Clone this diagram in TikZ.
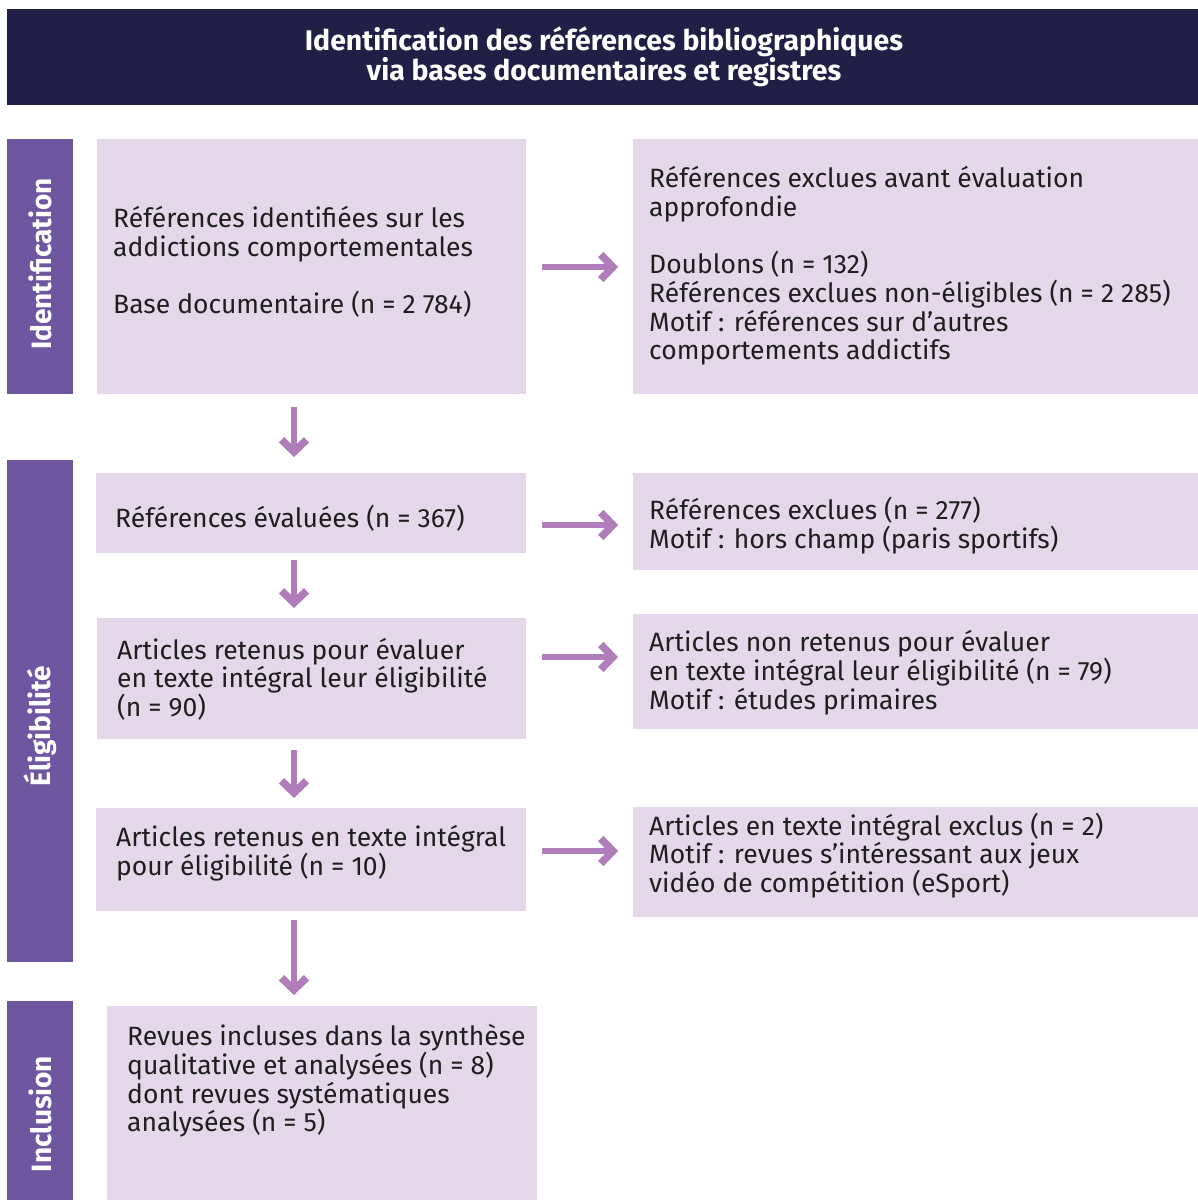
\documentclass[tikz,border=0pt]{standalone}
\usepackage{fontspec}
\setmainfont{Fira Sans}
\usetikzlibrary{arrows.meta}
\definecolor{navy}{HTML}{211F45}
\definecolor{side}{HTML}{6E57A0}
\definecolor{boxc}{HTML}{E5D7EA}
\definecolor{arr}{HTML}{B07DBA}
\definecolor{txt}{HTML}{1E1E1E}
\tikzset{
  panel/.style={fill=boxc, draw=none, inner sep=0pt, anchor=north west},
  sidebar/.style={fill=side, draw=none, inner sep=0pt, anchor=north west, minimum width=66pt},
  sidelabel/.style={rotate=90, text=white, font=\fontsize{28}{30}\selectfont\bfseries},
  body/.style={text=txt, align=left, anchor=west, inner sep=0pt, font=\fontsize{26.5}{28.7}\selectfont},
  flowarrow/.style={draw=arr, line width=6pt, -{Straight Barb[length=12pt,width=25pt,line width=7.5pt,line cap=butt,line join=miter]}},
}
\begin{document}
\begin{tikzpicture}[x=1pt,y=-1pt]
\useasboundingbox (0,0) rectangle (1198,1200);
% header
\node[fill=navy, inner sep=0pt, anchor=north west, minimum width=1191pt, minimum height=96pt] (head) at (7,9) {};
\node[text=white, align=center, font=\fontsize{28.4}{30.5}\selectfont\bfseries] (headtxt) at (604,57) {Identification des références bibliographiques\\via bases documentaires et registres};
% side bars
\node[sidebar, minimum height=255pt] (s1) at (7,139) {};
\node[sidebar, minimum height=502pt] (s2) at (7,460) {};
\node[sidebar, minimum height=199pt] (s3) at (7,1001) {};
\node[sidelabel] (s1t) at (40,264) {Identification};
\node[sidelabel] (s2t) at (40,726) {Éligibilité};
\node[sidelabel] (s3t) at (40,1114) {Inclusion};
% left boxes
\node[panel, minimum width=429pt, minimum height=255pt] (b1) at (97,139) {};
\node[panel, minimum width=430pt, minimum height=80pt] (b2) at (96,473) {};
\node[panel, minimum width=429pt, minimum height=121pt] (b3) at (97,618) {};
\node[panel, minimum width=430pt, minimum height=103pt] (b4) at (96,808) {};
\node[panel, minimum width=430pt, minimum height=194pt] (b5) at (107,1006) {};
% right boxes
\node[panel, minimum width=565pt, minimum height=255pt] (r1) at (633,139) {};
\node[panel, minimum width=565pt, minimum height=97pt] (r2) at (633,473) {};
\node[panel, minimum width=565pt, minimum height=115pt] (r3) at (633,614) {};
\node[panel, minimum width=565pt, minimum height=110pt] (r4) at (633,807) {};
% texts
\node[body] (b1t) at (113,262) {Références identifiées sur les\\addictions comportementales\\~\\Base documentaire (n = 2~784)};
\node[body] (b2t) at (115,518) {Références évaluées (n = 367)};
\node[body] (b3t) at (117,679) {Articles retenus pour évaluer\\en texte intégral leur éligibilité\\(n = 90)};
\node[body] (b4t) at (116,853) {Articles retenus en texte intégral\\pour éligibilité (n = 10)};
\node[body] (b5t) at (127,1081) {Revues incluses dans la synthèse\\qualitative et analysées (n = 8)\\dont revues systématiques\\analysées (n = 5)};
\node[body] (r1t) at (649,266) {Références exclues avant évaluation\\approfondie\\~\\Doublons (n = 132)\\Références exclues non-éligibles (n = 2~285)\\Motif : références sur d’autres\\comportements addictifs};
\node[body] (r2t) at (649,525.5) {Références exclues (n = 277)\\Motif : hors champ (paris sportifs)};
\node[body] (r3t) at (649,672.5) {Articles non retenus pour évaluer\\en texte intégral leur éligibilité (n = 79)\\Motif : études primaires};
\node[body] (r4t) at (649,855.5) {Articles en texte intégral exclus (n = 2)\\Motif : revues s’intéressant aux jeux\\vidéo de compétition (eSport)};
% arrows
\coordinate (ax) at (294,0);
\draw[flowarrow, shorten <=13pt, shorten >=16pt] (b1.south -| ax) -- (b2.north -| ax);
\draw[flowarrow, shorten <=7pt, shorten >=10pt] (b2.south -| ax) -- (b3.north -| ax);
\draw[flowarrow, shorten <=11pt, shorten >=10pt] (b3.south -| ax) -- (b4.north -| ax);
\draw[flowarrow, shorten <=9pt, shorten >=11pt] (b4.south -| ax) -- (b5.north -| ax);
\draw[flowarrow, shorten <=16pt, shorten >=15pt] (b1.east |- 0,267) -- (r1.west |- 0,267);
\draw[flowarrow, shorten <=16pt, shorten >=15pt] (b2.east |- 0,525) -- (r2.west |- 0,525);
\draw[flowarrow, shorten <=16pt, shorten >=15pt] (b3.east |- 0,657) -- (r3.west |- 0,657);
\draw[flowarrow, shorten <=16pt, shorten >=15pt] (b4.east |- 0,851) -- (r4.west |- 0,851);
\end{tikzpicture}
\end{document}
